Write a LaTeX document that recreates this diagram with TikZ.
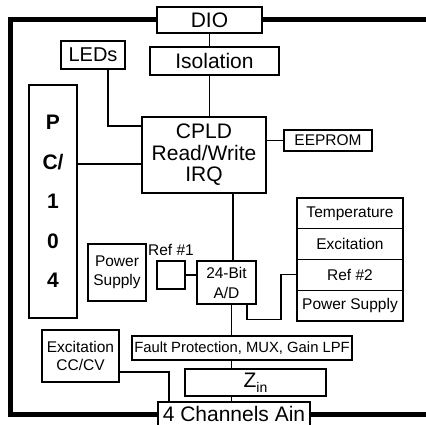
\documentclass[tikz,border=0pt]{standalone}
\usepackage{fontspec}
\setmainfont{Liberation Sans}
\usetikzlibrary{positioning}
\newcommand{\bigtxt}{\fontsize{21}{21.5}\selectfont}
\newcommand{\smalltxt}{\fontsize{15.5}{19}\selectfont}
\begin{document}
\begin{tikzpicture}[x=1pt, y=-1pt,
        blk/.style={draw, line width=1.1pt, inner sep=0pt, outer sep=0pt, align=center, font=\bigtxt},
        sblk/.style={blk, font=\smalltxt},
        cell/.style={sblk, minimum width=106pt, minimum height=30.75pt},
        wire/.style={line width=1.1pt},
        bus/.style={line width=5pt}]
        \useasboundingbox (0,0) rectangle (426,425);
        \clip (0,0) rectangle (426,425);
        \node[blk, minimum width=105pt, minimum height=26pt] (dio) at (209.5,20) {DIO};
        \node[blk, minimum width=129pt, minimum height=28pt] (iso) at (214.5,61) {Isolation};
        \node[blk, minimum width=64pt, minimum height=28pt, font=\fontsize{20}{21.5}\selectfont] (leds) at (93,55) {LEDs};
        \node[blk, minimum width=48pt, minimum height=233pt, text depth=0pt, font=\bfseries\fontsize{21}{39.5}\selectfont] (pc) at (53,201.5) {P\\C/\\1\\0\\4};
        \node[blk, minimum width=124pt, minimum height=76pt] (cpld) at (204,155) {CPLD\\Read/Write\\IRQ};
        \node[sblk, minimum width=88pt, minimum height=21pt] (eeprom) at (328,140.5) {EEPROM};
        \node[cell] (temp) at (350,213.4) {Temperature};
        \node[cell, below=0pt of temp] (excit) {Excitation};
        \node[cell, below=0pt of excit] (ref2) {Ref \#2};
        \node[cell, below=0pt of ref2] (pwr2) {Power Supply};
        \node[sblk, minimum width=58pt, minimum height=57pt] (pwr1) at (117,272.5) {Power\\Supply};
        \node[blk, minimum size=28pt] (ref1) at (171,275) {};
        \node[font=\smalltxt, inner sep=0pt, above=5pt of ref1] (ref1lbl) {Ref \#1};
        \node[blk, minimum width=59pt, minimum height=43pt, font=\fontsize{15.5}{20}\selectfont] (adc) at (226.5,282.5) {24-Bit\\A/D};
        \node[blk, minimum width=220pt, minimum height=24pt, font=\fontsize{14.8}{18}\selectfont] (fault) at (242,348) {Fault Protection, MUX, Gain LPF};
        \node[blk, minimum width=141pt, minimum height=27pt] (zin) at (255.5,382.5) {Z\raisebox{-5pt}{\fontsize{14}{14}\selectfont in}};
        \node[blk, minimum width=152pt, minimum height=24pt, font=\fontsize{21}{24}\selectfont] (ain) at (234,414) {4 Channels Ain};
        \node[blk, minimum width=77pt, minimum height=52pt, font=\fontsize{15.5}{18}\selectfont] (exc) at (80.5,356) {Excitation\\CC/CV};
        \coordinate (pcport) at ([yshift=-9pt]cpld.west);
        \coordinate (adcin) at ([xshift=6.5pt]adc.north);
        \coordinate (adcref) at ([xshift=20.5pt]adc.south);
        \coordinate (adcout) at ([xshift=5pt]adc.south);
        \coordinate (excout) at ([yshift=-16pt]exc.east);
        \coordinate (buscorner) at (10.5,20);
        \coordinate (busend) at (440,20);
        \draw[wire] (dio.south) -- (dio.south |- iso.north);
        \draw[wire] (dio.south |- iso.south) -- (dio.south |- cpld.north);
        \draw[wire] ([xshift=15pt]leds.south) |- ([yshift=-9pt]cpld.north west);
        \draw[wire] (pc.east |- pcport) -- (pcport);
        \draw[wire] (cpld.east |- eeprom.west) -- (eeprom.west);
        \draw[wire] (adcin |- cpld.south) -- (adcin);
        \draw[wire] (ref1.east) -- (ref1.east -| adc.west);
        \draw[wire] (adcref) |- ([shift={(-16,45)}]ref2.west) |- (ref2.west);
        \draw[wire] (adcout) -- (adcout |- fault.north);
        \draw[wire] (adcout |- fault.south) -- (adcout |- zin.north);
        \draw[wire] (adcout |- zin.south) -- (adcout |- ain.north);
        \draw[wire] (excout) -| ([xshift=-65pt]ain.north);
        \draw[bus] (dio.west) -- (buscorner) |- (ain.west);
        \draw[bus] (dio.east) -- (busend);
        \draw[bus] (ain.east) -- (ain.east -| busend);
\end{tikzpicture}
\end{document}
